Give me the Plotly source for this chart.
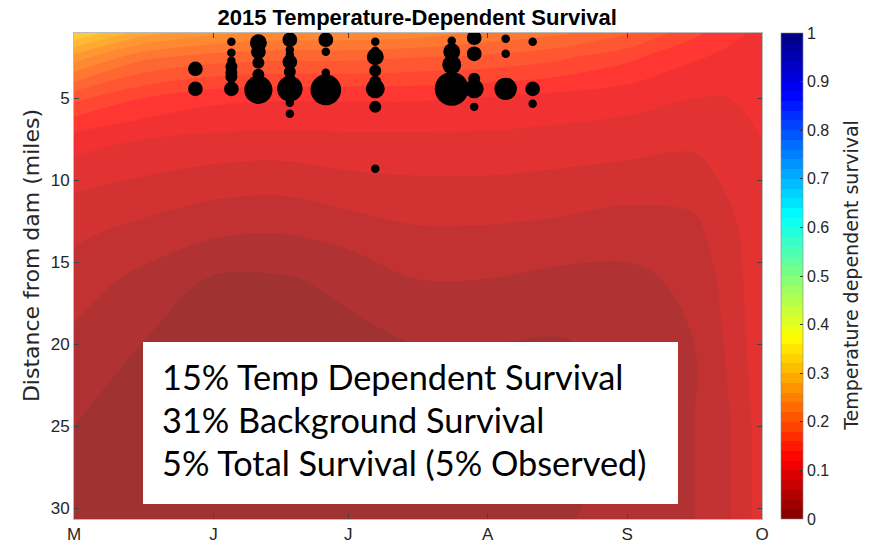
import plotly.graph_objects as go

# ---------------- data ----------------
grid_dates = ['2015-05-01', '2015-05-16', '2015-06-01', '2015-06-16', '2015-07-01', '2015-07-16',
              '2015-08-01', '2015-08-16', '2015-09-01', '2015-09-16', '2015-09-24', '2015-10-01']
grid_miles = [1.0, 2.5, 5.0, 7.5, 10.0, 13.0, 16.0, 20.0, 25.0, 30.7]
survival = [
    [0.32, 0.27, 0.245, 0.235, 0.235, 0.23, 0.215, 0.205, 0.185, 0.145, 0.125, 0.115],
    [0.25, 0.205, 0.19, 0.185, 0.185, 0.18, 0.175, 0.165, 0.145, 0.122, 0.115, 0.11],
    [0.165, 0.14, 0.125, 0.122, 0.122, 0.122, 0.118, 0.112, 0.107, 0.10, 0.10, 0.105],
    [0.11, 0.10, 0.095, 0.093, 0.095, 0.095, 0.095, 0.093, 0.09, 0.085, 0.09, 0.10],
    [0.085, 0.078, 0.07, 0.068, 0.075, 0.078, 0.078, 0.075, 0.07, 0.07, 0.085, 0.10],
    [0.065, 0.055, 0.045, 0.042, 0.05, 0.058, 0.058, 0.055, 0.05, 0.055, 0.075, 0.095],
    [0.05, 0.035, 0.018, 0.018, 0.025, 0.04, 0.04, 0.035, 0.035, 0.045, 0.07, 0.095],
    [0.035, 0.02, 0.012, 0.012, 0.014, 0.02, 0.02, 0.018, 0.025, 0.04, 0.065, 0.095],
    [0.02, 0.012, 0.01, 0.01, 0.012, 0.015, 0.015, 0.015, 0.022, 0.04, 0.06, 0.09],
    [0.012, 0.008, 0.008, 0.01, 0.012, 0.015, 0.015, 0.018, 0.025, 0.04, 0.06, 0.09],
]

fish_dates = (['2015-05-28'] * 2 + ['2015-06-05'] * 7 + ['2015-06-11'] * 5 + ['2015-06-18'] * 9 +
              ['2015-06-26'] * 4 + ['2015-07-07'] * 8 + ['2015-07-24'] * 4 + ['2015-07-29'] * 5 +
              ['2015-08-05'] * 3 + ['2015-08-11'] * 3)
fish_miles = [3.19, 4.41,
              1.54, 2.21, 2.70, 3.06, 3.43, 3.67, 4.41,
              1.60, 2.15, 2.82, 3.55, 4.47,
              1.41, 2.03, 2.33, 2.76, 3.37, 3.86, 4.41, 5.26, 5.93,
              1.41, 2.15, 3.43, 4.47,
              1.54, 2.09, 2.45, 3.31, 3.98, 4.41, 5.51, 9.29,
              1.48, 2.15, 2.94, 4.41,
              1.29, 2.27, 3.80, 4.41, 5.51,
              1.35, 2.27, 4.41,
              1.54, 4.41, 5.32]
fish_counts = [3, 3,
               1, 1, 1, 2, 2, 2, 3,
               4, 3, 2, 2, 11,
               3, 1, 1, 3, 2, 2, 9, 1, 1,
               3, 1, 1, 13,
               1, 1, 4, 2, 2, 5, 2, 1,
               1, 4, 5, 16,
               3, 3, 2, 5, 1,
               1, 1, 7,
               1, 3, 1]

month_ticks = ['2015-05-01', '2015-06-01', '2015-07-01', '2015-08-01', '2015-09-01', '2015-10-01']
month_labels = ['M', 'J', 'J', 'A', 'S', 'O']
mile_ticks = [5, 10, 15, 20, 25, 30]
cbar_ticks = [0, 0.1, 0.2, 0.3, 0.4, 0.5, 0.6, 0.7, 0.8, 0.9, 1]
cbar_labels = ['0', '0.1', '0.2', '0.3', '0.4', '0.5', '0.6', '0.7', '0.8', '0.9', '1']
summary_lines = ['15% Temp Dependent Survival', '31% Background Survival', '5% Total Survival (5% Observed)']

# reversed MATLAB jet
jet_r = [[0.0, 'rgb(128,0,0)'], [0.125, 'rgb(255,0,0)'], [0.375, 'rgb(255,255,0)'],
         [0.625, 'rgb(0,255,255)'], [0.875, 'rgb(0,0,255)'], [1.0, 'rgb(0,0,128)']]

TXT = '#262626'
FONT = 'Liberation Sans, Arial, sans-serif'
WIDE = 'DejaVu Sans, sans-serif'

fig = go.Figure()
fig.add_trace(go.Contour(
    x=grid_dates, y=grid_miles, z=survival,
    colorscale=jet_r, zauto=False, zmin=0, zmax=1,
    autocontour=False,
    contours=dict(coloring='fill', start=0, end=1, size=0.02),
    line=dict(width=0, smoothing=1.0),
    opacity=0.8,
    hoverinfo='skip',
    colorbar=dict(
        thickness=22, len=1, lenmode='fraction', y=0.5, yanchor='middle',
        x=1.027, xanchor='left', xpad=0, ypad=0,
        outlinewidth=0.6, outlinecolor='#888888',
        tickvals=cbar_ticks, ticktext=cbar_labels,
        ticks='inside', ticklen=3, tickcolor='#333333',
        tickfont=dict(family=FONT, size=16, color=TXT),
    ),
))

fig.add_trace(go.Scatter(
    x=fish_dates, y=fish_miles, mode='markers',
    marker=dict(size=fish_counts, sizemode='area', sizeref=1 / 36, color='black',
                opacity=1, line=dict(width=0)),
    showlegend=False, hoverinfo='skip',
))

# summary text box
fig.add_shape(type='rect', xref='paper', yref='paper',
              x0=0.1003, x1=0.8779, y0=0.0309, y1=0.3642,
              fillcolor='white', line=dict(width=0), layer='above')
for i, (txt, yy) in enumerate(zip(summary_lines, [0.293, 0.205, 0.116])):
    fig.add_annotation(text=txt, xref='paper', yref='paper', x=0.125, y=yy,
                       xanchor='left', yanchor='middle', showarrow=False,
                       font=dict(family='Lato, Calibri, sans-serif', size=34.3, color='black'))

# axis / colorbar titles (rotated)
fig.add_annotation(text='Distance from dam (miles)', xref='paper', yref='paper',
                   x=-0.0625, y=0.541, textangle=-90, xanchor='center', yanchor='middle',
                   showarrow=False, font=dict(family=WIDE, size=22, color=TXT))
fig.add_annotation(text='Temperature dependent survival', xref='paper', yref='paper',
                   x=1.129, y=0.502, textangle=-90, xanchor='center', yanchor='middle',
                   showarrow=False, font=dict(family=WIDE, size=19, color=TXT))

fig.update_layout(
    width=871, height=547,
    margin=dict(l=74, r=109, t=33, b=28),
    paper_bgcolor='white', plot_bgcolor='white',
    showlegend=False,
    title=dict(text='<b>2015 Temperature-Dependent Survival</b>', x=0.479, xanchor='center',
               y=0.969, yanchor='middle', font=dict(family=FONT, size=22, color='black')),
    xaxis=dict(type='date', range=['2015-05-01', '2015-10-01'],
               tickvals=month_ticks, ticktext=month_labels,
               ticks='inside', ticklen=5, tickcolor='#444444',
               showline=True, linecolor='#bbbbbb', linewidth=1, mirror='ticks',
               showgrid=False, zeroline=False, automargin=False,
               tickfont=dict(family=FONT, size=17, color=TXT)),
    yaxis=dict(range=[30.67, 1.0], tickvals=mile_ticks,
               ticks='inside', ticklen=5, tickcolor='#444444',
               showline=True, linecolor='#bbbbbb', linewidth=1, mirror='ticks',
               showgrid=False, zeroline=False, automargin=False,
               tickfont=dict(family=FONT, size=17, color=TXT)),
)

fig.write_html('out.html', config={'displayModeBar': False},
               post_script="document.body.style.margin='0';")
